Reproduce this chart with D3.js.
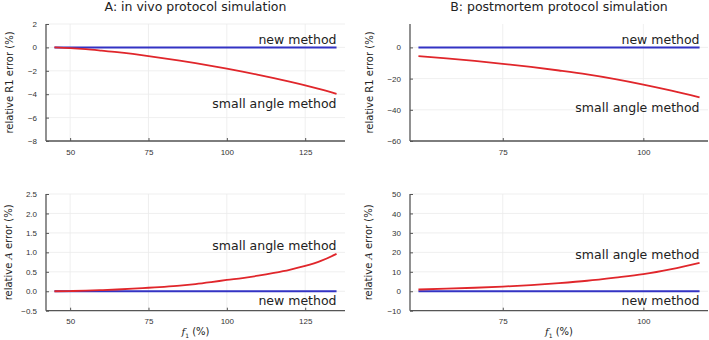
<!DOCTYPE html>
<html>
<head>
<meta charset="utf-8">
<script src="https://cdn.jsdelivr.net/npm/d3@7"></script>
<style>
  body { margin: 0; background: #fff; }
  svg { display: block; font-family: 'DejaVu Sans', sans-serif; }
  .grid line { stroke: #ebebeb; stroke-width: 0.8; }
  .tick-label { font-size: 8px; fill: #333; }
</style>
</head>
<body>
<div id="chart"></div>
<script>
// flip angle (%) for the two protocols
var fA = [45, 50, 55, 60, 65, 70, 75, 80, 85, 90, 95, 100, 105, 110, 115, 120, 125, 130, 135]
var fB = [60, 65, 70, 75, 80, 85, 90, 95, 100, 105, 110]

// relative R1 error (%)
var r1SmallA = [0, -0.06, -0.15, -0.27, -0.4, -0.56, -0.74, -0.93, -1.13, -1.35, -1.58, -1.82, -2.07, -2.34, -2.62, -2.92, -3.24, -3.59, -3.97]
var r1NewA = [0, 0, 0, 0, 0, 0, 0, 0, 0, 0, 0, 0, 0, 0, 0, 0, 0, 0, 0]
var r1SmallB = [-5.6, -7.1, -8.7, -10.5, -12.5, -14.8, -17.3, -20.3, -23.8, -27.7, -32]
var r1NewB = [0, 0, 0, 0, 0, 0, 0, 0, 0, 0, 0]

// relative A error (%)
var aSmallA = [0, 0.005, 0.015, 0.03, 0.045, 0.065, 0.09, 0.115, 0.145, 0.185, 0.235, 0.29, 0.34, 0.4, 0.47, 0.55, 0.65, 0.78, 0.96]
var aNewA = [0, 0, 0, 0, 0, 0, 0, 0, 0, 0, 0, 0, 0, 0, 0, 0, 0, 0, 0]
var aSmallB = [0.9, 1.3, 1.8, 2.4, 3.2, 4.2, 5.4, 7.0, 8.8, 11.4, 14.6]
var aNewB = [0, 0, 0, 0, 0, 0, 0, 0, 0, 0, 0]

// axis limits and ticks
var xlimA = [42.3, 137.7]
var xlimB = [58.5, 111.5]
var xticksA = [50, 75, 100, 125]
var xticksB = [75, 100]
var ylimR1A = [-8, 2]
var ylimR1B = [-60, 15]
var ylimAA = [-0.5, 2.5]
var ylimAB = [-10, 50]
var yticksR1A = [-8, -6, -4, -2, 0, 2]
var yticksR1B = [-60, -40, -20, 0]
var yticksAA = [-0.5, 0, 0.5, 1, 1.5, 2, 2.5]
var yticksAB = [-10, 0, 10, 20, 30, 40, 50]

// label anchors (data units, baseline)
var labelsR1A = [0.28, -5.17]
var labelsR1B = [2.4, -41.1]
var labelsAA = [-0.35, 1.05]
var labelsAB = [-6.9, 16.5]

var W = 709, H = 340
var svg = d3.select('#chart').append('svg')
  .attr('width', W)
  .attr('height', H)

var blue = '#3333c4'
var red = '#e0262b'

var panels = [
  { box: [46, 24, 345, 141], f: fA, xlim: xlimA, xticks: xticksA, ylim: ylimR1A, yticks: yticksR1A, small: r1SmallA, nu: r1NewA, labels: labelsR1A, fmt: d3.format('d'), title: 'A: in vivo protocol simulation', ylab: 'R1', ylabX: 13, xlab: false },
  { box: [410, 24, 708, 141], f: fB, xlim: xlimB, xticks: xticksB, ylim: ylimR1B, yticks: yticksR1B, small: r1SmallB, nu: r1NewB, labels: labelsR1B, fmt: d3.format('d'), title: 'B: postmortem protocol simulation', ylab: 'R1', ylabX: 373, xlab: false },
  { box: [46, 194, 345, 310.7], f: fA, xlim: xlimA, xticks: xticksA, ylim: ylimAA, yticks: yticksAA, small: aSmallA, nu: aNewA, labels: labelsAA, fmt: d3.format('.1f'), title: null, ylab: 'A', ylabX: 12, xlab: true },
  { box: [410, 194, 708, 310.7], f: fB, xlim: xlimB, xticks: xticksB, ylim: ylimAB, yticks: yticksAB, small: aSmallB, nu: aNewB, labels: labelsAB, fmt: d3.format('d'), title: null, ylab: 'A', ylabX: 372, xlab: true }
]

function minus (s) { return String(s).replace('-', '\u2212') }

panels.forEach(function (p) {
  var x0 = p.box[0], y0 = p.box[1], x1 = p.box[2], y1 = p.box[3]
  var x = d3.scaleLinear().domain(p.xlim).range([x0, x1])
  var y = d3.scaleLinear().domain(p.ylim).range([y1, y0])
  var g = svg.append('g')

  // grid
  var grid = g.append('g').attr('class', 'grid')
  grid.selectAll('line.gx').data(p.xticks).enter().append('line')
    .attr('x1', function (d) { return x(d) }).attr('x2', function (d) { return x(d) })
    .attr('y1', y0).attr('y2', y1)
  grid.selectAll('line.gy').data(p.yticks).enter().append('line')
    .attr('x1', x0).attr('x2', x1)
    .attr('y1', function (d) { return y(d) }).attr('y2', function (d) { return y(d) })

  // axes: ticks point inward, GR style
  var xAxis = d3.axisBottom(x).tickValues(p.xticks).tickSize(-3).tickPadding(8).tickFormat(d3.format('d'))
  var yAxis = d3.axisLeft(y).tickValues(p.yticks).tickSize(-3).tickPadding(9).tickFormat(function (d) { return minus(p.fmt(d)) })
  var gx = g.append('g').attr('transform', 'translate(0,' + y1 + ')').call(xAxis)
  var gy = g.append('g').attr('transform', 'translate(' + x0 + ',0)').call(yAxis)
  ;[gx, gy].forEach(function (a) {
    a.select('.domain').attr('stroke', '#555').attr('stroke-width', 1.3)
      .attr('d', a === gx ? 'M' + x0 + ',0H' + x1 : 'M0,' + y0 + 'V' + y1)
    a.selectAll('.tick line').attr('stroke', '#555')
    a.selectAll('.tick text').attr('class', 'tick-label').attr('font-family', null).attr('font-size', null)
  })

  // lines
  var line = d3.line()
    .curve(d3.curveMonotoneX)
    .x(function (d) { return x(d[0]) })
    .y(function (d) { return y(d[1]) })
  g.append('path')
    .datum(d3.zip(p.f, p.nu))
    .attr('d', line)
    .attr('fill', 'none').attr('stroke', blue).attr('stroke-width', 2)
  g.append('path')
    .datum(d3.zip(p.f, p.small))
    .attr('d', line)
    .attr('fill', 'none').attr('stroke', red).attr('stroke-width', 1.8)

  // series labels
  var xEnd = x(d3.max(p.f))
  g.append('text').text('new method')
    .attr('x', xEnd).attr('y', y(p.labels[0]))
    .attr('text-anchor', 'end').style('font-size', '12.5px').attr('fill', '#222')
  g.append('text').text('small angle method')
    .attr('x', xEnd).attr('y', y(p.labels[1]))
    .attr('text-anchor', 'end').style('font-size', '12.5px').attr('fill', '#222')

  // title
  if (p.title) {
    g.append('text').text(p.title)
      .attr('x', (x0 + x1) / 2).attr('y', 11)
      .attr('text-anchor', 'middle').style('font-size', '12.5px').attr('fill', '#222')
  }

  // y label
  var yl = g.append('text')
    .attr('transform', 'translate(' + p.ylabX + ',' + ((y0 + y1) / 2) + ') rotate(-90)')
    .attr('text-anchor', 'middle').style('font-size', '10px').attr('fill', '#222')
  if (p.ylab === 'R1') {
    yl.text('relative R1 error (%)')
  } else {
    yl.append('tspan').text('relative ')
    yl.append('tspan').text('A').style('font-style', 'italic').attr('font-family', 'DejaVu Serif')
    yl.append('tspan').text(' error (%)')
  }

  // x label
  if (p.xlab) {
    var xl = g.append('text')
      .attr('x', (x0 + x1) / 2).attr('y', 335)
      .attr('text-anchor', 'middle').style('font-size', '10px').attr('fill', '#222')
    xl.append('tspan').text('f').style('font-style', 'italic').attr('font-family', 'DejaVu Serif')
    xl.append('tspan').text('1').style('font-size', '6px').attr('dy', 3)
    xl.append('tspan').text(' (%)').attr('dy', -3)
  }
})
</script>
</body>
</html>
